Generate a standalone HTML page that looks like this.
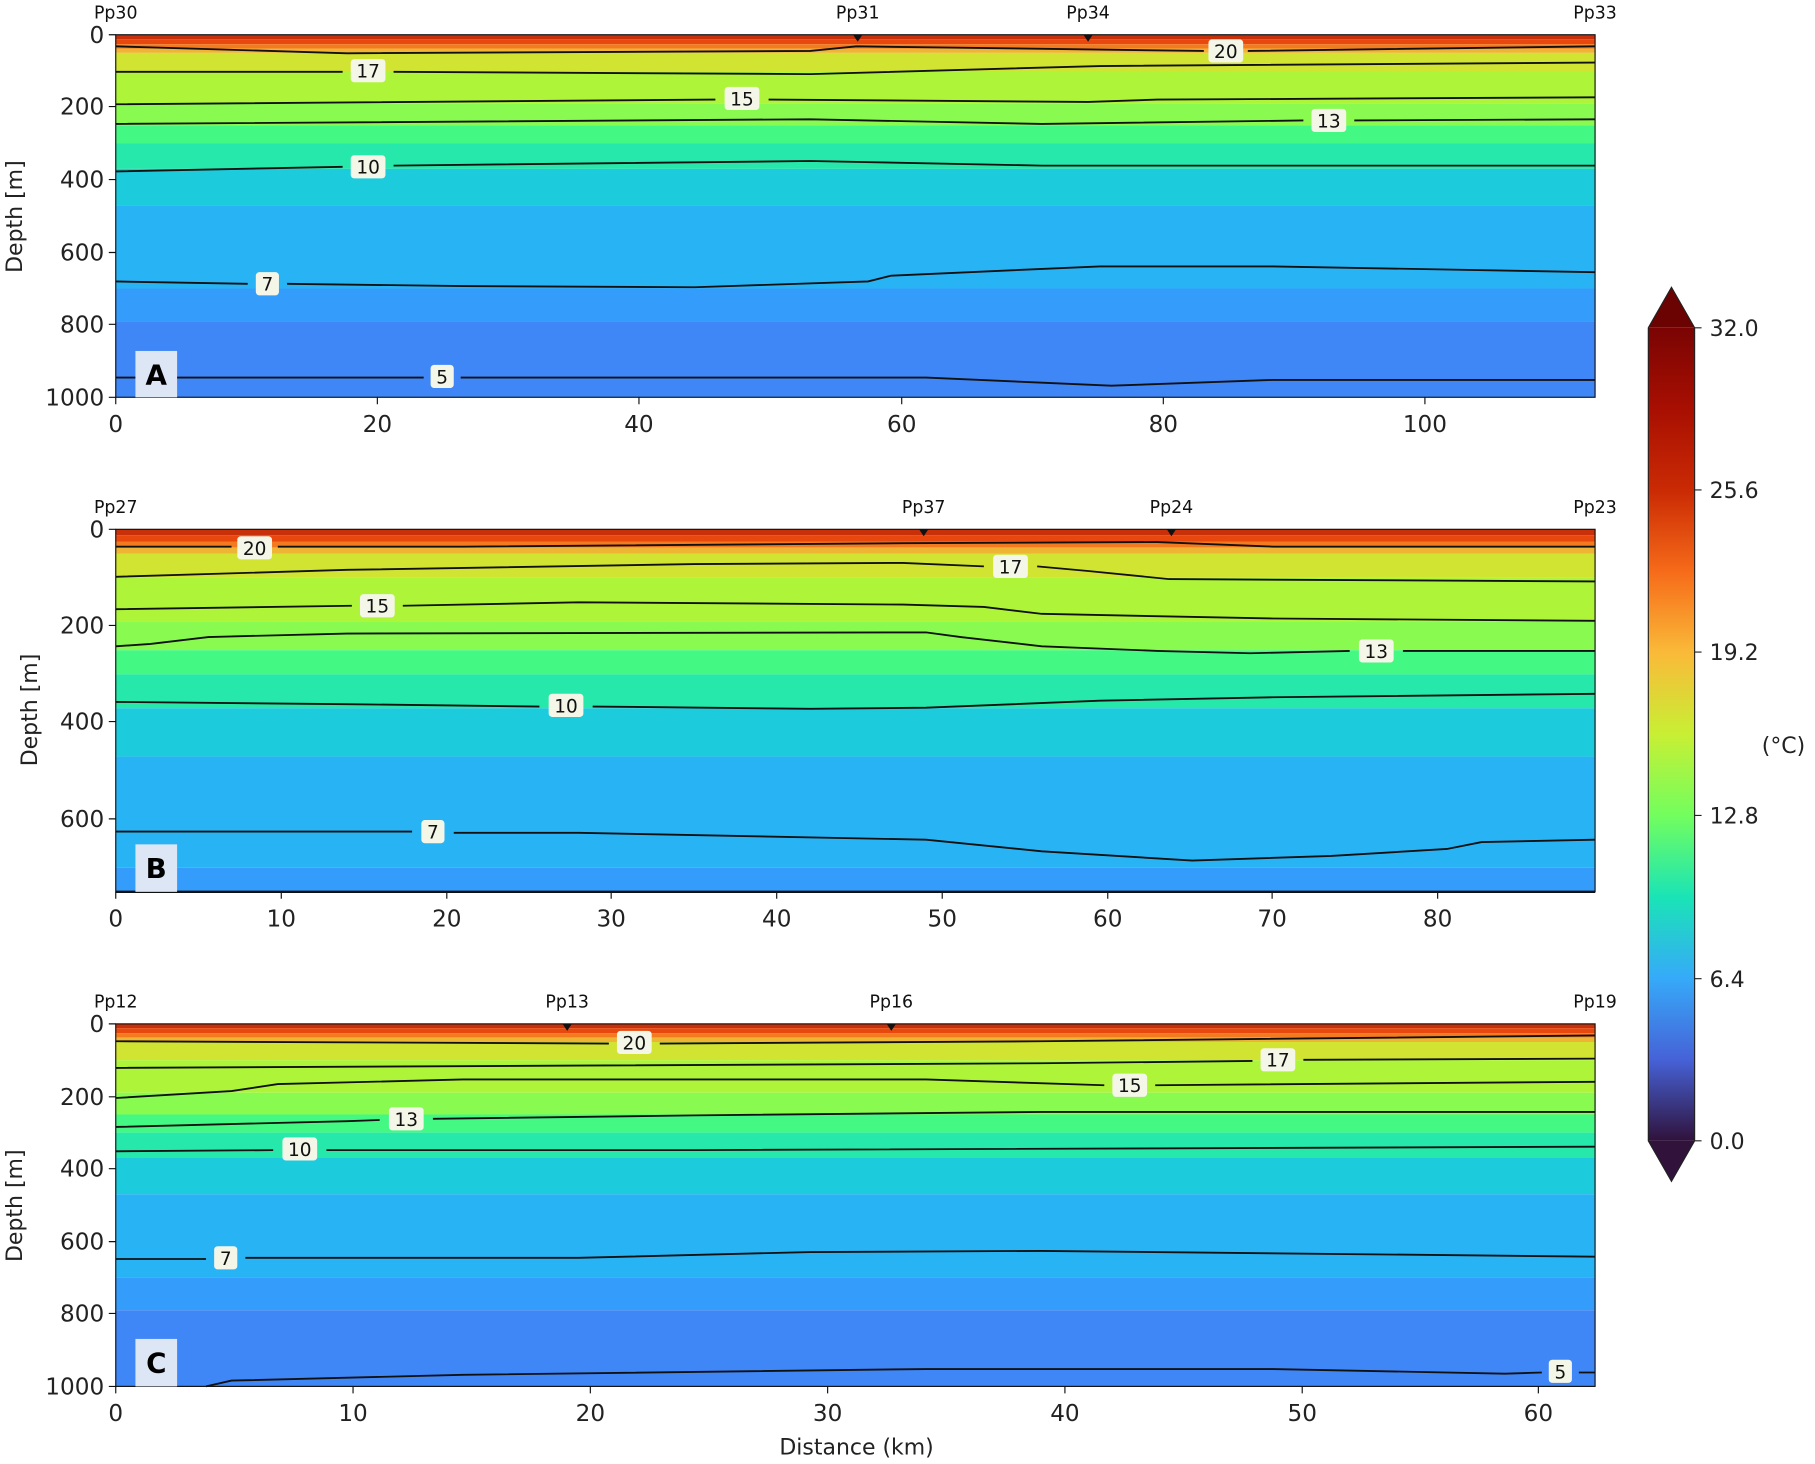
<!DOCTYPE html>
<html><head><meta charset="utf-8"><style>
html,body{margin:0;padding:0;background:#fff;}
svg{display:block;font-family:"DejaVu Sans","Liberation Sans",sans-serif;}
</style></head><body>
<svg width="1815" height="1464" viewBox="0 0 1568 1264" preserveAspectRatio="none" xmlns="http://www.w3.org/2000/svg">
<defs>
<g id="bands">
<rect x="0" y="0" width="1" height="12" fill="#c8300a"/>
<rect x="0" y="12" width="1" height="14" fill="#e8480e"/>
<rect x="0" y="26" width="1" height="12" fill="#f47a20"/>
<rect x="0" y="38" width="1" height="12" fill="#f0b434"/>
<rect x="0" y="50" width="1" height="50" fill="#d2e432"/>
<rect x="0" y="100" width="1" height="90" fill="#aef53a"/>
<rect x="0" y="190" width="1" height="60" fill="#88fa50"/>
<rect x="0" y="250" width="1" height="50" fill="#44f884"/>
<rect x="0" y="300" width="1" height="70" fill="#26e8aa"/>
<rect x="0" y="370" width="1" height="100" fill="#1ccbdc"/>
<rect x="0" y="470" width="1" height="230" fill="#28b4f4"/>
<rect x="0" y="700" width="1" height="90" fill="#349cfb"/>
<rect x="0" y="790" width="1" height="210" fill="#3f86f6"/>
</g>
<linearGradient id="cb" x1="0" y1="1" x2="0" y2="0">
<stop offset="0" stop-color="#30123b"/><stop offset="0.1" stop-color="#4662d7"/>
<stop offset="0.2" stop-color="#36aaf9"/><stop offset="0.3" stop-color="#1ae4b6"/>
<stop offset="0.4" stop-color="#72fe5e"/><stop offset="0.5" stop-color="#c8ef34"/>
<stop offset="0.6" stop-color="#faba39"/><stop offset="0.7" stop-color="#f66b19"/>
<stop offset="0.8" stop-color="#ca2a04"/><stop offset="0.9" stop-color="#a80f02"/>
<stop offset="1" stop-color="#7a0403"/>
</linearGradient>
</defs>

<!-- Panel A -->
<use href="#bands" transform="translate(100,30) scale(1278,0.313)"/>
<g fill="none" stroke="#111" stroke-width="1.6">
<path d="M100,40 L300,46 L700,44 L740,40 L1040,44 M1078,44 L1378,40"/>
<path d="M100,62 L296,62 M340,62 L700,64 L950,57 L1378,54"/>
<path d="M100,90 L618,86 M664,86 L940,88 L1000,86 L1378,84"/>
<path d="M100,107 L700,103 L900,107 L1126,104 M1170,104 L1378,103"/>
<path d="M100,148 L296,144 M340,143 L700,139 L900,143 L1378,143"/>
<path d="M100,243 L214,245 M248,245 L400,247 L600,248 L750,243 L770,238 L950,230 L1100,230 L1378,235"/>
<path d="M100,326 L366,326 M398,326 L800,326 L960,333 L1100,328 L1378,328"/>
</g>
<rect x="100" y="30" width="1278" height="313" fill="none" stroke="#111" stroke-width="1"/>

<!-- Panel B -->
<svg x="100" y="457" width="1278" height="313" viewBox="0 0 1278 313" overflow="hidden">
<use href="#bands" transform="scale(1278,0.4175)"/>
</svg>
<g fill="none" stroke="#111" stroke-width="1.6">
<path d="M100,472 L200,472 M240,472 L400,472 L780,469 L1000,468 L1100,472 L1378,472"/>
<path d="M100,498 L300,492 L600,487 L780,486 L850,489 M896,489 L940,493 L1010,500 L1378,502"/>
<path d="M100,526 L304,523 M348,523 L500,520 L780,522 L850,524 L900,530 L1100,534 L1378,536"/>
<path d="M100,558 L130,556 L180,550 L300,547 L800,546 L830,550 L900,558 L1000,562 L1080,564 L1166,562 M1212,562 L1378,562"/>
<path d="M100,606 L300,608 L466,610 M512,610 L700,612 L800,611 L950,605 L1100,602 L1378,599"/>
<path d="M100,718 L356,718 M392,719 L500,719 L800,725 L900,735 L1030,743 L1150,739 L1250,733 L1280,727 L1378,725"/>
<path d="M100,770 L1378,770" stroke-width="2"/>
</g>
<rect x="100" y="457" width="1278" height="313" fill="none" stroke="#111" stroke-width="1"/>

<!-- Panel C -->
<use href="#bands" transform="translate(100,884) scale(1278,0.313)"/>
<g fill="none" stroke="#111" stroke-width="1.6">
<path d="M100,899 L526,901 M570,901 L900,899 L1378,894"/>
<path d="M100,922 L500,920 L900,918 L1082,916 M1126,915 L1378,914"/>
<path d="M100,948 L200,942 L240,936 L400,932 L800,932 L954,937 M998,937 L1378,934"/>
<path d="M100,973 L300,968 L328,967 M374,966 L600,963 L900,960 L1378,960"/>
<path d="M100,994 L236,993 M282,993 L600,993 L1378,990"/>
<path d="M100,1087 L178,1087 M212,1086 L500,1086 L700,1081 L900,1080 L1378,1085"/>
<path d="M178,1197 L200,1192 L400,1187 L800,1182 L1100,1182 L1300,1186 L1332,1185 M1364,1185 L1378,1185"/>
</g>
<rect x="100" y="884" width="1278" height="313" fill="none" stroke="#111" stroke-width="1"/>

<!-- contour labels -->
<g font-size="16" text-anchor="middle" fill="#111">
<g fill="#f4f6e8" stroke="none">
<rect x="1044" y="34" width="30" height="20" rx="3"/><rect x="303" y="51" width="30" height="20" rx="3"/>
<rect x="626" y="75" width="30" height="20" rx="3"/><rect x="1133" y="94" width="30" height="20" rx="3"/>
<rect x="303" y="134" width="30" height="20" rx="3"/><rect x="221" y="235" width="20" height="20" rx="3"/>
<rect x="372" y="315" width="20" height="20" rx="3"/>
<rect x="205" y="463" width="30" height="20" rx="3"/><rect x="858" y="479" width="30" height="20" rx="3"/>
<rect x="311" y="513" width="30" height="20" rx="3"/><rect x="1174" y="552" width="30" height="20" rx="3"/>
<rect x="474" y="599" width="30" height="20" rx="3"/><rect x="364" y="708" width="20" height="20" rx="3"/>
<rect x="533" y="890" width="30" height="20" rx="3"/><rect x="1089" y="905" width="30" height="20" rx="3"/>
<rect x="961" y="927" width="30" height="20" rx="3"/><rect x="336" y="956" width="30" height="20" rx="3"/>
<rect x="244" y="982" width="30" height="20" rx="3"/><rect x="185" y="1076" width="20" height="20" rx="3"/>
<rect x="1338" y="1174" width="20" height="20" rx="3"/>
</g>
<text x="1059" y="50">20</text><text x="318" y="67">17</text><text x="641" y="91">15</text>
<text x="1148" y="110">13</text><text x="318" y="150">10</text><text x="231" y="251">7</text><text x="382" y="331">5</text>
<text x="220" y="479">20</text><text x="873" y="495">17</text><text x="326" y="529">15</text>
<text x="1189" y="568">13</text><text x="489" y="615">10</text><text x="374" y="724">7</text>
<text x="548" y="906">20</text><text x="1104" y="921">17</text><text x="976" y="943">15</text>
<text x="351" y="972">13</text><text x="259" y="998">10</text><text x="195" y="1092">7</text><text x="1348" y="1190">5</text>
</g>

<!-- panel letters -->
<g font-size="24" font-weight="bold" text-anchor="middle" fill="#000">
<rect x="117" y="303" width="36" height="40" fill="#dde6f5"/><text x="135" y="332">A</text>
<rect x="117" y="729" width="36" height="41" fill="#dde6f5"/><text x="135" y="758">B</text>
<rect x="117" y="1156" width="36" height="41" fill="#dde6f5"/><text x="135" y="1185">C</text>
</g>

<!-- stations -->
<g font-size="15" text-anchor="middle" fill="#111">
<text x="100" y="16">Pp30</text><text x="741" y="16">Pp31</text><text x="940" y="16">Pp34</text><text x="1378" y="16">Pp33</text>
<text x="100" y="443">Pp27</text><text x="798" y="443">Pp37</text><text x="1012" y="443">Pp24</text><text x="1378" y="443">Pp23</text>
<text x="100" y="870">Pp12</text><text x="490" y="870">Pp13</text><text x="770" y="870">Pp16</text><text x="1378" y="870">Pp19</text>
</g>
<g fill="#111">
<path d="M737,30 L745,30 L741,36Z"/><path d="M936,30 L944,30 L940,36Z"/>
<path d="M794,457 L802,457 L798,463Z"/><path d="M1008,457 L1016,457 L1012,463Z"/>
<path d="M486,884 L494,884 L490,890Z"/><path d="M766,884 L774,884 L770,890Z"/>
</g>

<!-- axes ticks & labels -->
<g stroke="#111" stroke-width="1">
<path d="M94,30H100M94,92H100M94,155H100M94,218H100M94,280H100M94,343H100"/>
<path d="M100,343V349M326,343V349M552,343V349M779,343V349M1005,343V349M1231,343V349"/>
<path d="M94,457H100M94,540H100M94,623H100M94,707H100"/>
<path d="M100,770V776M243,770V776M386,770V776M528,770V776M671,770V776M814,770V776M957,770V776M1099,770V776M1242,770V776"/>
<path d="M94,884H100M94,947H100M94,1009H100M94,1072H100M94,1134H100M94,1197H100"/>
<path d="M100,1197V1203M305,1197V1203M510,1197V1203M715,1197V1203M920,1197V1203M1125,1197V1203M1329,1197V1203"/>
</g>
<g font-size="20" fill="#222">
<g text-anchor="end">
<text x="90" y="37">0</text><text x="90" y="99">200</text><text x="90" y="162">400</text><text x="90" y="225">600</text><text x="90" y="287">800</text><text x="90" y="350">1000</text>
<text x="90" y="464">0</text><text x="90" y="547">200</text><text x="90" y="630">400</text><text x="90" y="714">600</text>
<text x="90" y="891">0</text><text x="90" y="954">200</text><text x="90" y="1016">400</text><text x="90" y="1079">600</text><text x="90" y="1141">800</text><text x="90" y="1204">1000</text>
</g>
<g text-anchor="middle">
<text x="100" y="373">0</text><text x="326" y="373">20</text><text x="552" y="373">40</text><text x="779" y="373">60</text><text x="1005" y="373">80</text><text x="1231" y="373">100</text>
<text x="100" y="800">0</text><text x="243" y="800">10</text><text x="386" y="800">20</text><text x="528" y="800">30</text><text x="671" y="800">40</text><text x="814" y="800">50</text><text x="957" y="800">60</text><text x="1099" y="800">70</text><text x="1242" y="800">80</text>
<text x="100" y="1227">0</text><text x="305" y="1227">10</text><text x="510" y="1227">20</text><text x="715" y="1227">30</text><text x="920" y="1227">40</text><text x="1125" y="1227">50</text><text x="1329" y="1227">60</text>
<text x="740" y="1256" font-size="19">Distance (km)</text>
<text transform="translate(19,187) rotate(-90)" font-size="19">Depth [m]</text>
<text transform="translate(32,613) rotate(-90)" font-size="19">Depth [m]</text>
<text transform="translate(19,1041) rotate(-90)" font-size="19">Depth [m]</text>
</g>
</g>

<!-- colorbar -->
<path d="M1424,283 L1444,248 L1464,283Z" fill="#6a0302"/>
<path d="M1424,985 L1444,1020 L1464,985Z" fill="#30123b"/>
<rect x="1424" y="283" width="40" height="702" fill="url(#cb)"/>
<path d="M1424,283 L1444,248 L1464,283 L1464,985 L1444,1020 L1424,985Z" fill="none" stroke="#222" stroke-width="1"/>
<g stroke="#222"><path d="M1464,283H1470M1464,423H1470M1464,563H1470M1464,704H1470M1464,845H1470M1464,985H1470"/></g>
<g font-size="19" fill="#222">
<text x="1477" y="290">32.0</text><text x="1477" y="430">25.6</text><text x="1477" y="570">19.2</text>
<text x="1477" y="711">12.8</text><text x="1477" y="852">6.4</text><text x="1477" y="992">0.0</text>
<text x="1522" y="650">(°C)</text>
</g>
</svg>
</body></html>
